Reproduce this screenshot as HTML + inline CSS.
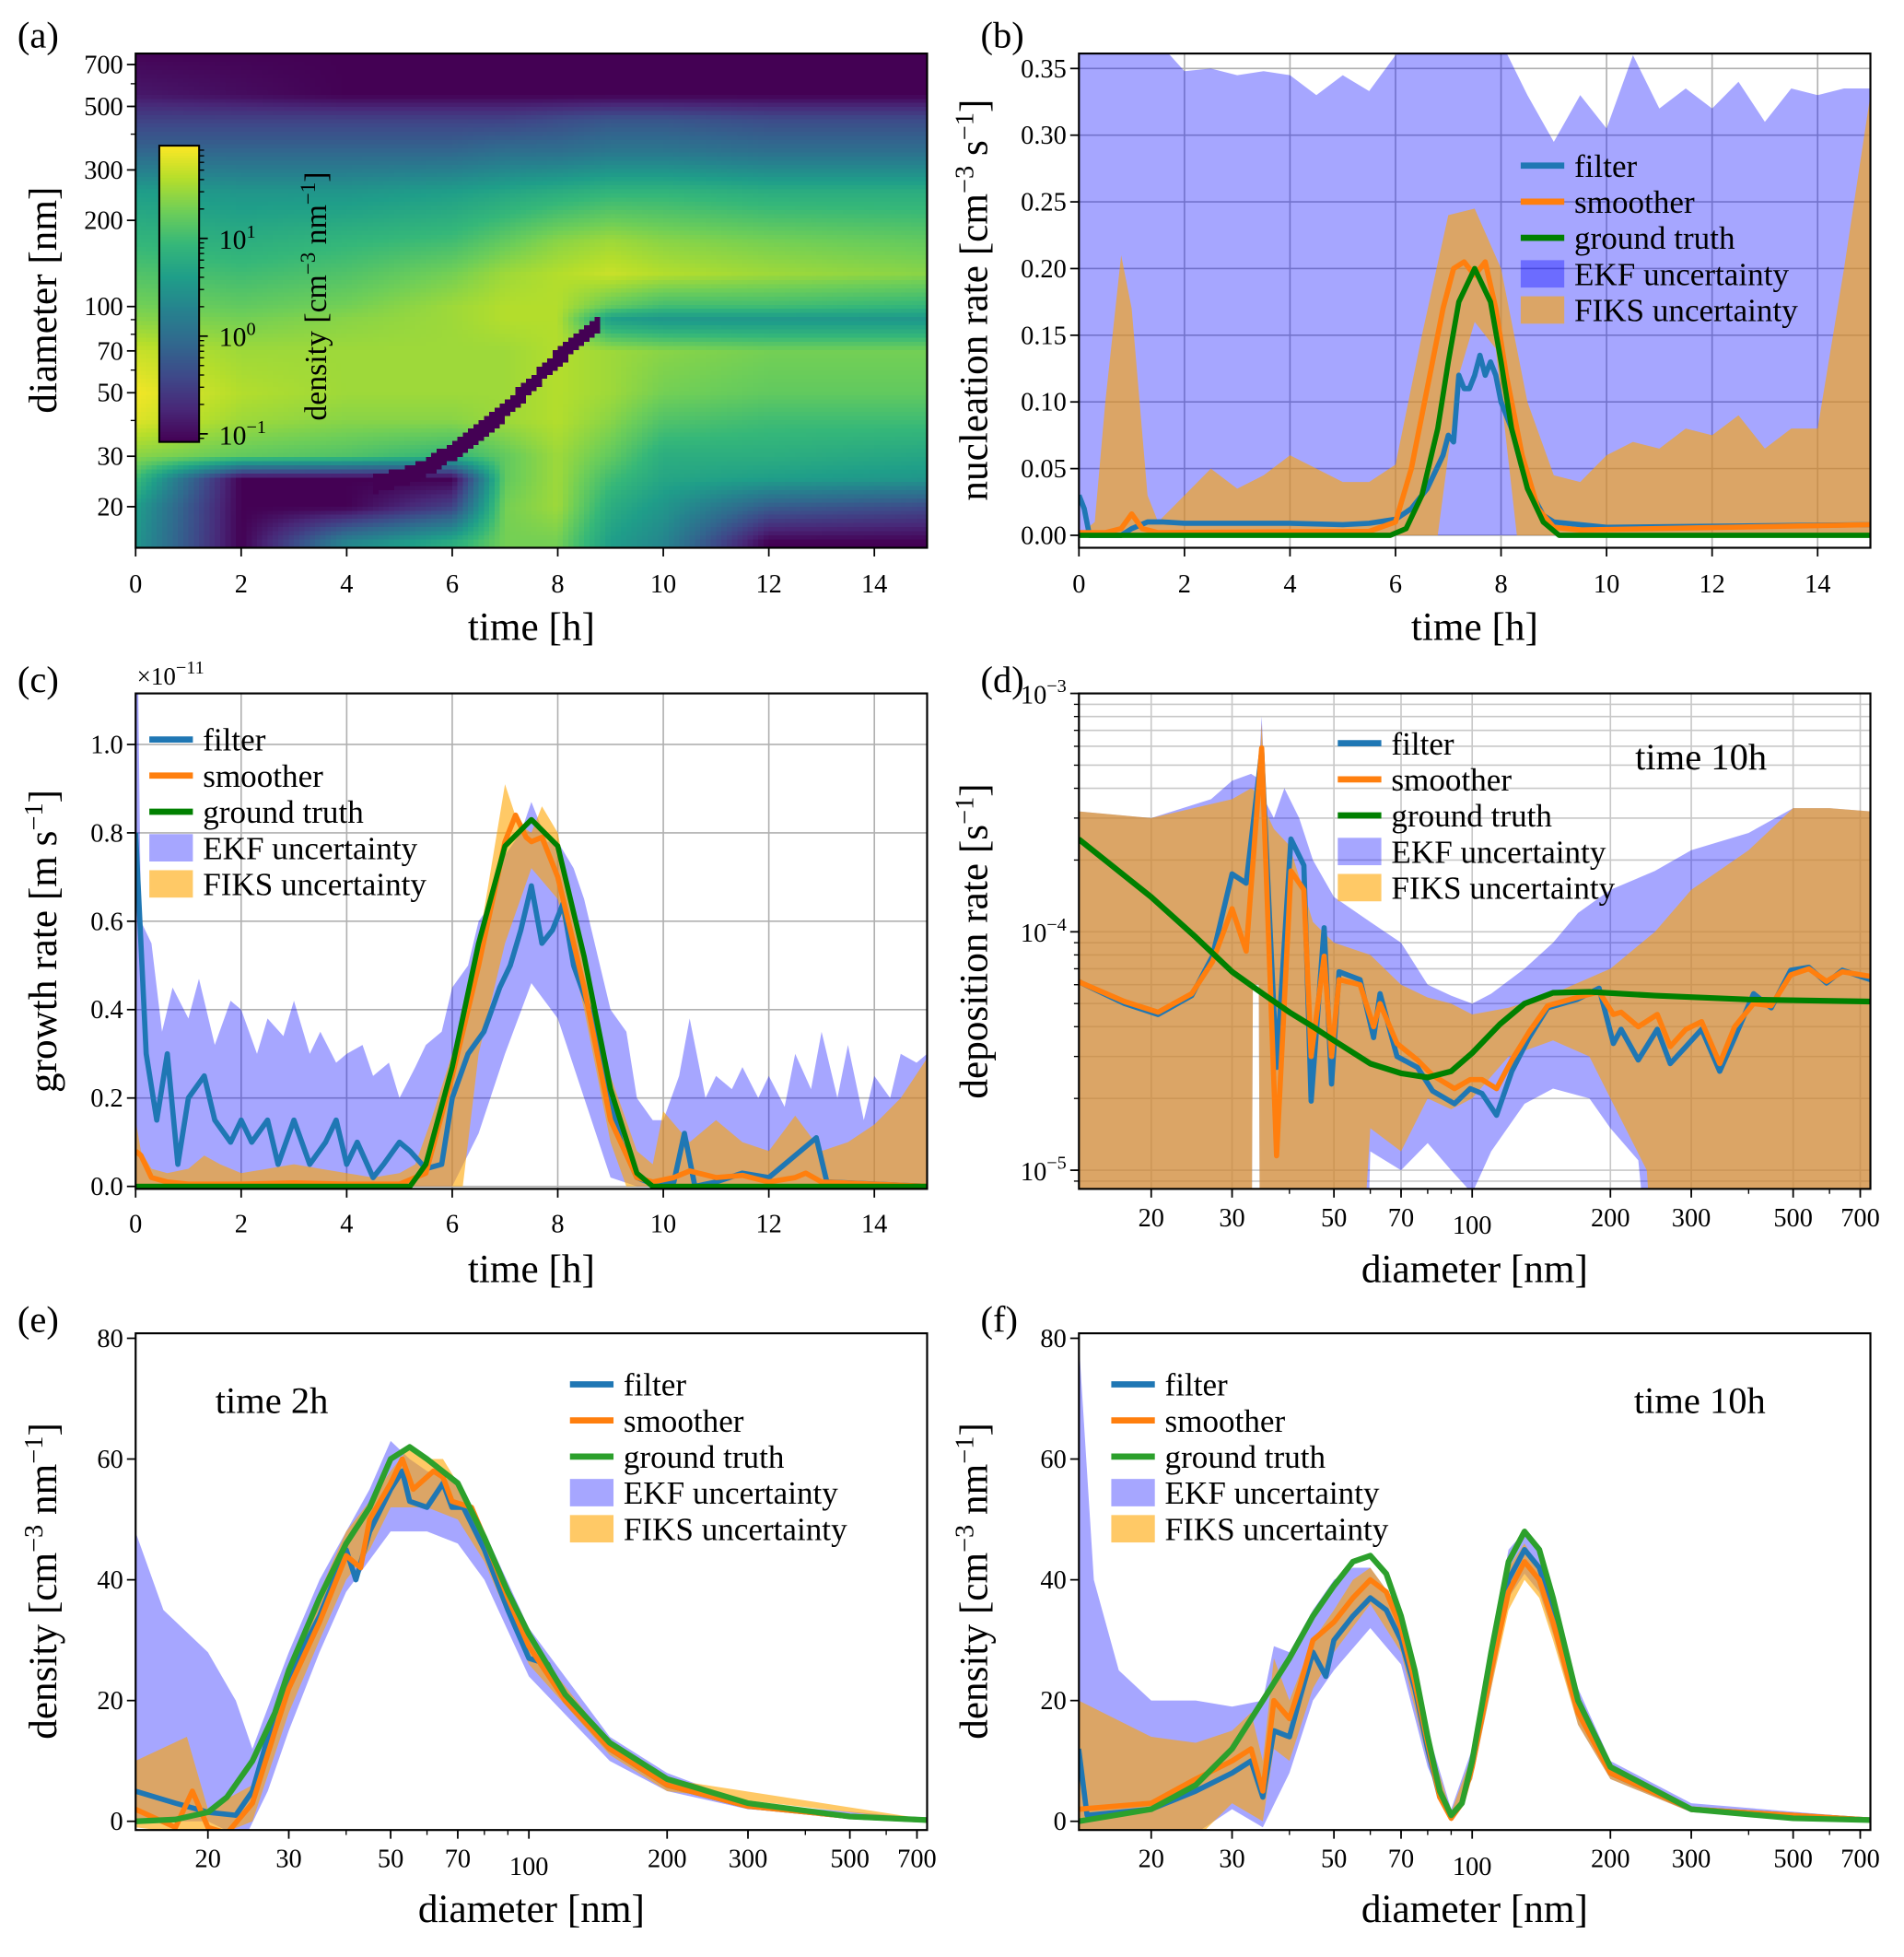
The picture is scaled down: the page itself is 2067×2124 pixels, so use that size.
<!DOCTYPE html>
<html><head><meta charset="utf-8">
<style>
html,body{margin:0;padding:0;background:#fff;}
svg{display:block;font-family:"Liberation Serif",serif;}
</style></head>
<body>
<svg id="fig" width="2067" height="2124" viewBox="0 0 1530 1572" preserveAspectRatio="none" xmlns="http://www.w3.org/2000/svg">
<defs>
<clipPath id="cA"><rect x="109" y="43" width="636" height="397"/></clipPath>
<clipPath id="cB"><rect x="867" y="43" width="636" height="397"/></clipPath>
<clipPath id="cC"><rect x="109" y="557" width="636" height="398"/></clipPath>
<clipPath id="cD"><rect x="867" y="557" width="636" height="398"/></clipPath>
<clipPath id="cE"><rect x="109" y="1071" width="636" height="399"/></clipPath>
<clipPath id="cF"><rect x="867" y="1071" width="636" height="399"/></clipPath>
</defs>
<g id="gA"></g>
<g id="gB"></g>
<g id="gC"></g>
<g id="gD"></g>
<g id="gE"></g>
<g id="gF"></g>

<g font-size="30">
<text x="14" y="38">(a)</text>
<text x="788" y="38">(b)</text>
<text x="14" y="556">(c)</text>
<text x="788" y="556">(d)</text>
<text x="14" y="1070">(e)</text>
<text x="788" y="1070">(f)</text>
</g>

<g font-size="32" text-anchor="middle">
<text x="427" y="514">time [h]</text>
<text x="1185" y="514">time [h]</text>
<text x="427" y="1030">time [h]</text>
<text x="1185" y="1030">diameter [nm]</text>
<text x="427" y="1544">diameter [nm]</text>
<text x="1185" y="1544">diameter [nm]</text>
<text transform="translate(45,241) rotate(-90)">diameter [nm]</text>
<text transform="translate(793,241) rotate(-90)">nucleation rate [cm<tspan dy="-11" font-size="21">−3</tspan><tspan dy="11"> s</tspan><tspan dy="-11" font-size="21">−1</tspan><tspan dy="11">]</tspan></text>
<text transform="translate(45,756) rotate(-90)">growth rate [m s<tspan dy="-11" font-size="21">−1</tspan><tspan dy="11">]</tspan></text>
<text transform="translate(793,756) rotate(-90)">deposition rate [s<tspan dy="-11" font-size="21">−1</tspan><tspan dy="11">]</tspan></text>
<text transform="translate(45,1270) rotate(-90)">density [cm<tspan dy="-11" font-size="21">−3</tspan><tspan dy="11"> nm</tspan><tspan dy="-11" font-size="21">−1</tspan><tspan dy="11">]</tspan></text>
<text transform="translate(793,1270) rotate(-90)">density [cm<tspan dy="-11" font-size="21">−3</tspan><tspan dy="11"> nm</tspan><tspan dy="-11" font-size="21">−1</tspan><tspan dy="11">]</tspan></text>
</g>
<text x="110" y="550" font-size="20">×10<tspan dy="-9" font-size="15">−11</tspan></text>

<g font-size="30">
<text x="1314" y="618">time 10h</text>
<text x="173" y="1135">time 2h</text>
<text x="1313" y="1135">time 10h</text>
</g>
<g id="legends"></g>
</svg>
<script>
// ================= DATA =================
// (a) heatmap table: log10 density at time nodes x diameter nodes
const hmTimes=[0,2,4,6,7,8,9,10,12,15];
const hmDiams=[14,15,20,25,30,40,50,70,90,100,130,170,250,350,450,550,800];
const hmVals=[
[0.5,-1.1,0.3,0.8,1.3,1.3,0.6,0.3,-1.1,-1.1],
[0.5,-1.1,0.3,0.8,1.3,1.3,0.6,0.3,-1.1,-1.1],
[0.6,-1.1,-1.1,-0.5,1.3,1.5,0.8,0.5,-0.2,-0.4],
[1.0,-1.1,-1.1,-1.1,1.2,1.5,1.0,0.7,0.6,0.5],
[1.4,1.2,1.1,0.9,1.2,1.5,1.2,0.8,0.8,0.7],
[1.8,1.5,1.4,1.4,1.5,1.6,1.4,1.1,1.0,1.0],
[1.9,1.6,1.5,1.5,1.5,1.6,1.5,1.3,1.2,1.2],
[1.7,1.5,1.5,1.5,1.5,1.6,1.5,1.4,1.3,1.3],
[1.4,1.3,1.4,1.5,1.6,1.6,0.6,0.5,0.5,0.5],
[1.3,1.2,1.3,1.5,1.6,1.6,1.2,1.0,1.0,0.9],
[1.1,1.0,1.1,1.3,1.5,1.6,1.7,1.6,1.5,1.4],
[0.9,0.8,0.9,1.0,1.2,1.4,1.5,1.4,1.3,1.2],
[0.6,0.5,0.5,0.6,0.7,0.8,0.9,0.9,0.8,0.8],
[-0.1,-0.1,-0.1,-0.1,0.0,0.0,0.1,0.1,0.0,0.0],
[-0.5,-0.5,-0.5,-0.5,-0.5,-0.4,-0.3,-0.3,-0.4,-0.4],
[-0.9,-1.0,-1.1,-1.1,-1.1,-1.1,-1.1,-1.1,-1.1,-1.1],
[-1.1,-1.1,-1.1,-1.1,-1.1,-1.1,-1.1,-1.1,-1.1,-1.1]];
const stripeT=[4.5,5.3,6,7,8,8.8];
const stripeD=[24,26,31,43,66,88];

// (b) nucleation
const bEkfUpT=[0,0.5,1,1.5,2,2.5,3,3.5,4,4.5,5,5.5,6,6.5,7,7.5,8,8.5,9,9.5,10,10.5,11,11.5,12,12.5,13,13.5,14,14.5,15];
const bEkfUpV=[0.37,0.37,0.37,0.37,0.348,0.35,0.345,0.348,0.345,0.33,0.345,0.333,0.36,0.37,0.37,0.37,0.37,0.33,0.295,0.33,0.305,0.36,0.32,0.335,0.32,0.34,0.31,0.335,0.33,0.335,0.335];
const bFiksUpT=[0,0.3,0.5,0.8,1.0,1.3,1.5,2,2.5,3,3.5,4,4.5,5,5.5,6,6.5,7,7.5,8,8.5,9,9.5,10,10.5,11,11.5,12,12.5,13,13.5,14,14.5,15];
const bFiksUpV=[0,0.01,0.1,0.21,0.17,0.03,0.01,0.03,0.05,0.035,0.045,0.06,0.05,0.04,0.04,0.053,0.15,0.24,0.245,0.2,0.1,0.045,0.04,0.06,0.07,0.065,0.08,0.075,0.09,0.065,0.08,0.08,0.2,0.33];
const bFiksLoT=[0,6.8,7.2,7.5,7.9,8.3,15];
const bFiksLoV=[0,0,0.12,0.16,0.14,0,0];
const bFiltT=[0,0.1,0.2,0.6,0.8,1.0,1.3,1.6,2,3,4,5,5.5,6,6.3,6.6,6.9,7.0,7.1,7.2,7.3,7.4,7.5,7.6,7.7,7.8,7.9,8.0,8.2,8.4,8.6,8.8,9.0,9.5,10,15];
const bFiltV=[0.03,0.02,0,0,0,0.005,0.01,0.01,0.009,0.009,0.009,0.008,0.009,0.012,0.02,0.035,0.06,0.075,0.07,0.12,0.11,0.11,0.12,0.135,0.12,0.13,0.12,0.1,0.08,0.05,0.03,0.015,0.01,0.008,0.006,0.008];
const bSmoT=[0,0.5,0.8,1.0,1.2,1.5,5.5,6.0,6.3,6.6,6.9,7.1,7.3,7.5,7.7,7.9,8.1,8.4,8.7,9.0,9.5,15];
const bSmoV=[0.002,0.002,0.005,0.016,0.005,0.002,0.003,0.01,0.05,0.11,0.17,0.2,0.205,0.195,0.205,0.17,0.12,0.06,0.02,0.006,0.004,0.008];
const bGtT=[0,5.9,6.2,6.5,6.8,7.0,7.2,7.5,7.8,8.0,8.2,8.5,8.8,9.1,15];
const bGtV=[0,0,0.005,0.03,0.08,0.13,0.175,0.2,0.175,0.13,0.08,0.035,0.01,0,0];

// (c) growth rate (x1e-11)
const cEkfUpT=[0,0.05,0.1,0.3,0.5,0.7,1,1.2,1.5,1.8,2,2.3,2.5,2.8,3,3.3,3.5,3.8,4,4.3,4.5,4.8,5,5.3,5.5,5.8,6,6.3,6.5,6.8,7,7.3,7.5,7.8,8,8.3,8.5,8.8,9,9.3,9.5,9.8,10,10.3,10.5,10.8,11,11.3,11.5,11.8,12,12.3,12.5,12.8,13,13.3,13.5,13.8,14,14.3,14.5,14.8,15];
const cEkfUpV=[1.12,1.12,0.6,0.55,0.35,0.45,0.38,0.47,0.32,0.42,0.4,0.3,0.38,0.34,0.42,0.3,0.35,0.28,0.3,0.32,0.25,0.28,0.2,0.27,0.32,0.35,0.45,0.5,0.6,0.65,0.75,0.8,0.87,0.78,0.78,0.72,0.65,0.5,0.4,0.35,0.2,0.15,0.15,0.25,0.38,0.2,0.25,0.22,0.27,0.2,0.25,0.18,0.3,0.22,0.35,0.2,0.32,0.15,0.25,0.2,0.3,0.28,0.3];
const cEkfLoT=[0,6,6.5,7,7.5,8,8.5,9,9.5,15];
const cEkfLoV=[0,0,0.12,0.3,0.46,0.38,0.2,0.02,0,0];
const cFiksUpT=[0,0.1,0.3,0.6,1,1.3,1.6,2,2.5,3,3.5,4,4.5,5,5.3,5.6,6,6.5,7,7.25,7.5,7.7,8,8.5,9,9.5,9.8,10,10.5,11,11.5,12,12.5,13,13.5,14,14.5,15];
const cFiksUpV=[0.15,0.08,0.04,0.03,0.04,0.07,0.05,0.03,0.04,0.05,0.04,0.03,0.02,0.03,0.05,0.15,0.3,0.55,0.91,0.82,0.8,0.86,0.8,0.5,0.25,0.08,0.05,0.17,0.1,0.15,0.1,0.08,0.16,0.08,0.1,0.14,0.2,0.29];
const cFiksLoT=[0,6.2,6.5,7,7.5,8,8.5,9,9.3,15];
const cFiksLoV=[0,0,0.3,0.55,0.72,0.65,0.4,0.1,0,0];
const cFiltT=[0,0.1,0.2,0.4,0.6,0.8,1.0,1.3,1.5,1.8,2.0,2.2,2.5,2.7,3.0,3.3,3.6,3.8,4.0,4.2,4.5,4.7,5.0,5.2,5.5,5.8,6.0,6.3,6.6,6.9,7.1,7.3,7.5,7.7,7.9,8.1,8.3,8.6,8.8,9.0,9.2,9.5,9.9,10.2,10.4,10.6,11,11.5,12,12.9,13.1,15];
const cFiltV=[0.8,0.55,0.3,0.15,0.3,0.05,0.2,0.25,0.15,0.1,0.15,0.1,0.15,0.05,0.15,0.05,0.1,0.15,0.05,0.1,0.02,0.05,0.1,0.08,0.04,0.05,0.2,0.3,0.35,0.45,0.5,0.58,0.68,0.55,0.58,0.64,0.5,0.4,0.3,0.2,0.1,0.02,0,0.01,0.12,0,0.01,0.03,0.02,0.11,0.01,0];
const cSmoT=[0,0.1,0.3,0.6,1,2,3,4,5,5.5,6,6.5,7,7.2,7.4,7.5,7.7,8,8.5,9,9.5,9.8,10.2,10.5,11,11.5,12,12.5,12.7,13,15];
const cSmoV=[0.08,0.07,0.02,0.01,0.005,0.005,0.008,0.005,0.005,0.03,0.25,0.5,0.78,0.84,0.79,0.78,0.79,0.7,0.45,0.15,0.02,0.01,0.02,0.035,0.02,0.025,0.01,0.02,0.03,0.01,0.0];
const cGtT=[0,5.2,5.5,6,6.5,7,7.5,8,8.5,9,9.5,9.8,15];
const cGtV=[0,0,0.05,0.27,0.55,0.77,0.83,0.77,0.52,0.22,0.03,0,0];

// (d) deposition rate
const dEkfUpD=[13.9,20,27,30,33,34.2,34.8,35.5,37,39,42,45,50,60,70,80,90,100,110,130,150,170,200,250,300,400,500,600,737];
const dEkfUpV=[3.2e-4,3e-4,3.6e-4,4.3e-4,4.6e-4,4.4e-4,8e-4,3.5e-4,3e-4,4e-4,3e-4,2e-4,1.4e-4,1.1e-4,9e-5,6e-5,5.4e-5,5e-5,5.5e-5,7e-5,9e-5,1.2e-4,1.5e-4,1.8e-4,2.2e-4,2.6e-4,3.3e-4,3.3e-4,3.2e-4];
const dEkfLoD=[13.9,33.0,33.3,34.3,34.6,58,60,70,80,90,100,110,130,150,180,200,230,260,737];
const dEkfLoV=[1e-6,1e-6,6e-5,6e-5,1e-6,1e-6,1.2e-5,1e-5,1.3e-5,1e-5,8e-6,1.2e-5,1.9e-5,2.2e-5,2e-5,1.5e-5,1.1e-5,1e-6,1e-6];
const dFiksUpD=[13.9,20,30,33,34.2,34.8,35.5,37,40,45,50,60,70,80,90,100,120,150,200,250,300,400,500,600,737];
const dFiksUpV=[3.2e-4,3e-4,3.6e-4,4e-4,3.8e-4,7.5e-4,3.2e-4,2.7e-4,2.3e-4,1.1e-4,9e-5,8e-5,6e-5,5.3e-5,5e-5,4.5e-5,4.8e-5,5.5e-5,7e-5,1e-4,1.5e-4,2.2e-4,3.3e-4,3.3e-4,3.2e-4];
const dFiksLoD=[13.9,33.0,33.3,34.3,34.6,50,55,60,70,80,90,100,120,150,180,200,240,260,737];
const dFiksLoV=[1e-6,1e-6,6e-5,6e-5,1e-6,1e-6,1e-6,1.5e-5,1.2e-5,2e-5,1.8e-5,2e-5,3e-5,3.5e-5,3e-5,2e-5,1e-5,1e-6,1e-6];
const dLineD=[13.9,14.1,17.5,20.7,24.5,27.2,30,32.2,34.8,37.5,40.3,43,44.6,47.6,49.4,51.3,57,61,63,68.6,76,82,91.5,99,105,113,122,133,146,169,189,203,211,230,253,270,292,316,346,373,410,448,494,541,591,640,737];
const dFiltV=[6.2e-5,6.1e-5,5.0e-5,4.5e-5,5.4e-5,7.9e-5,1.75e-4,1.6e-4,5.7e-4,2.7e-5,2.45e-4,1.9e-4,1.95e-5,1.04e-4,2.3e-5,6.8e-5,6.3e-5,3.6e-5,5.5e-5,3.0e-5,2.7e-5,2.15e-5,1.9e-5,2.2e-5,2.1e-5,1.7e-5,2.6e-5,3.6e-5,4.8e-5,5.2e-5,5.8e-5,3.4e-5,3.9e-5,2.9e-5,3.9e-5,2.8e-5,3.3e-5,3.9e-5,2.6e-5,3.6e-5,5.5e-5,4.8e-5,6.9e-5,7.1e-5,6.1e-5,6.9e-5,6.3e-5];
const dSmoV=[6.2e-5,6.1e-5,5.1e-5,4.6e-5,5.5e-5,7.5e-5,1.25e-4,8.3e-5,5.9e-4,1.15e-5,1.8e-4,1.5e-4,3.0e-5,7.9e-5,3.0e-5,6.3e-5,6.0e-5,4.0e-5,5.0e-5,3.4e-5,2.9e-5,2.5e-5,2.2e-5,2.4e-5,2.4e-5,2.2e-5,2.9e-5,3.8e-5,4.9e-5,5.3e-5,5.6e-5,4.5e-5,4.6e-5,4.0e-5,4.5e-5,3.3e-5,3.9e-5,4.2e-5,2.8e-5,4.0e-5,5.0e-5,4.9e-5,6.6e-5,7.0e-5,6.2e-5,6.8e-5,6.5e-5];
const dGtD=[13.9,20,25,30,35,40,45,50,60,70,80,90,100,115,130,150,180,250,400,737];
const dGtV=[2.45e-4,1.4e-4,9.5e-5,6.8e-5,5.5e-5,4.6e-5,4e-5,3.5e-5,2.8e-5,2.55e-5,2.45e-5,2.6e-5,3.1e-5,4.1e-5,5e-5,5.55e-5,5.6e-5,5.4e-5,5.2e-5,5.1e-5];

// (e) density at 2h
const eGtD=[13.9,17,20,22,25,28,30,35,40,45,50,55,60,70,80,90,100,120,150,200,300,500,740];
const eGtV=[0,0.3,1.5,4,10,18,25,37,46,52,60,62,60,56,47,38,31,21,13,7,3,0.8,0.2];
const eFiltD=[13.9,17,20,23,25,28,30,35,40,42,45,50,53,55,60,65,68,72,80,90,100,110,120,150,200,300,500,740];
const eFiltV=[5,3,1.5,1,5,18,24,34,45,40,48,55,58,53,52,56,52,52,45,35,27,26,20,12,6,2.5,0.8,0.2];
const eSmoD=[13.9,17,18.5,20,22,25,28,30,35,40,43,45,50,53,56,62,65,68,75,80,90,100,120,150,200,300,500,740];
const eSmoV=[2,-1,5,-1,-2,3,15,22,33,44,42,50,56,60,55,58,57,53,52,47,37,29,20,12,6,2.5,0.8,0.2];
const eEkfUpD=[13.9,16,20,23,25,28,30,35,40,45,50,55,60,70,80,100,150,200,300,740];
const eEkfUpV=[48,35,28,20,12,22,28,40,48,55,63,60,58,56,48,32,14,8,3,0.5];
const eEkfLoD=[13.9,20,24,27,30,35,40,50,60,70,80,100,150,200,300,740];
const eEkfLoV=[0,0,-3,5,15,28,38,48,48,46,40,24,10,5,2,0];
const eFiksUpD=[13.9,18,20,25,30,35,40,45,50,55,60,65,70,80,100,150,200,740];
const eFiksUpV=[10,14,2,6,25,38,48,53,58,62,60,60,56,48,30,13,7,0.3];
const eFiksLoD=[13.9,18,20,25,30,35,40,45,50,60,70,80,100,150,200,740];
const eFiksLoV=[-1,-2,-3,0,18,30,40,45,52,52,50,43,26,11,5,0];

// (f) density at 10h
const fGtD=[13.9,20,25,30,35,40,45,50,55,60,65,70,75,80,85,90,95,100,110,120,130,140,150,170,200,300,500,740];
const fGtV=[0,2,6,12,20,27,34,39,43,44,41,34,25,14,5,1,3,10,28,43,48,45,37,20,9,2,0.5,0.2];
const fFiltD=[13.9,14.5,20,25,30,33,35,37,40,42,45,48,50,55,60,65,70,75,80,85,90,95,100,110,120,130,140,150,170,200,300,740];
const fFiltV=[12,1,2,5,8,10,4,15,14,20,28,24,30,34,37,35,30,22,12,4,1,3,10,27,40,45,42,35,19,8,2,0.2];
const fSmoD=[13.9,20,25,30,33,35,37,40,42,45,50,55,60,65,70,75,80,85,90,95,100,110,120,130,140,150,170,200,300,740];
const fSmoV=[2,3,7,10,12,5,20,17,22,30,33,37,40,38,32,23,13,4,0.5,3,9,25,38,43,40,33,18,8,2,0.2];
const fEkfUpD=[13.9,15,17,20,25,30,35,37,40,45,50,55,60,70,80,90,100,110,120,130,140,150,170,200,300,740];
const fEkfUpV=[80,40,25,20,20,19,20,29,28,35,40,42,42,35,15,2,12,30,45,48,45,38,22,10,3,0.5];
const fEkfLoD=[13.9,20,25,30,35,40,45,50,60,70,80,90,100,110,120,130,140,150,170,200,300,740];
const fEkfLoV=[-2,-3,-2,2,-1,8,20,25,32,26,9,0,7,22,37,41,38,31,16,7,1.5,0];
const fFiksUpD=[13.9,20,25,30,33,35,37,40,45,50,55,60,70,80,90,100,110,120,130,140,150,170,200,300,740];
const fFiksUpV=[20,14,13,15,18,10,27,20,30,35,40,42,35,14,1.5,11,28,42,46,42,36,20,9,2.5,0.3];
const fFiksLoD=[13.9,20,25,30,35,37,40,45,50,60,70,80,90,100,110,120,130,140,150,170,200,300,740];
const fFiksLoV=[-3,-5,-3,3,0,12,10,22,28,36,28,10,0,7,22,35,40,37,30,16,7,1.5,0];

// ================= DRAWING =================
const NS='http://www.w3.org/2000/svg';
function mk(tag,attrs,parent){const e=document.createElementNS(NS,tag);for(const k in attrs)e.setAttribute(k,attrs[k]);parent.appendChild(e);return e;}
function interp(xs,ys,x){if(x<=xs[0])return ys[0];const n=Math.min(xs.length,ys.length);if(x>=xs[n-1])return ys[n-1];for(let i=1;i<n;i++){if(x<=xs[i]){const f=(x-xs[i-1])/(xs[i]-xs[i-1]);return ys[i-1]+f*(ys[i]-ys[i-1]);}}return ys[n-1];}
const L10=Math.log10;
const EKF='rgba(0,0,255,0.35)', FIKS='rgba(255,165,0,0.6)';
const BLUE='#1f77b4', ORANGE='#ff7f0e', DGREEN='#008000', GREEN='#2ca02c';

function pathOf(xs,ys,fx,fy){let s='';const n=Math.min(xs.length,ys.length);for(let i=0;i<n;i++)s+=(i?'L':'M')+fx(xs[i]).toFixed(2)+','+fy(ys[i]).toFixed(2);return s;}
function bandOf(xu,yu,xl,yl,fx,fy){let s=pathOf(xu,yu,fx,fy);const n=Math.min(xl.length,yl.length);for(let i=n-1;i>=0;i--)s+='L'+fx(xl[i]).toFixed(2)+','+fy(yl[i]).toFixed(2);return s+'Z';}

const AX={
 A:{x0:109,x1:745,y0:43,y1:440,fx:t=>109+t*42.4,fy:d=>407-230*L10(d/20)},
 B:{x0:867,x1:1503,y0:43,y1:440,fx:t=>867+t*42.4,fy:v=>430-v*1071.4},
 C:{x0:109,x1:745,y0:557,y1:955,fx:t=>109+t*42.4,fy:v=>953-v*355},
 D:{x0:867,x1:1503,y0:557,y1:955,fx:d=>1183+369*L10(d/100),fy:v=>557+(-3-L10(v))*191.5},
 E:{x0:109,x1:745,y0:1071,y1:1470,fx:d=>425+369*L10(d/100),fy:v=>1463-v*4.85},
 F:{x0:867,x1:1503,y0:1071,y1:1470,fx:d=>1183+369*L10(d/100),fy:v=>1463-v*4.85}
};

const VIR=[[68,1,84],[72,40,120],[62,73,137],[49,104,142],[38,130,142],[31,158,137],[53,183,121],[110,206,88],[181,222,43],[253,231,37]];
function viridis(f){f=Math.max(0,Math.min(1,f));const p=f*(VIR.length-1);const i=Math.min(VIR.length-2,Math.floor(p));const r=p-i;const a=VIR[i],b=VIR[i+1];return 'rgb('+Math.round(a[0]+r*(b[0]-a[0]))+','+Math.round(a[1]+r*(b[1]-a[1]))+','+Math.round(a[2]+r*(b[2]-a[2]))+')';}
const VMIN=-1.1,VMAX=1.95;

function grid(g,ax,xs,ys,fx,fy,col){
 for(const x of xs){const e=mk('line',{x1:fx(x),x2:fx(x),y1:ax.y0,y2:ax.y1,stroke:col||'#b0b0b0','stroke-width':1.2},g);}
 for(const y of ys){const e=mk('line',{x1:ax.x0,x2:ax.x1,y1:fy(y),y2:fy(y),stroke:col||'#b0b0b0','stroke-width':1.2},g);}
}
function frame(g,ax){const e=mk('rect',{x:ax.x0,y:ax.y0,width:ax.x1-ax.x0,height:ax.y1-ax.y0,fill:'none',stroke:'#000','stroke-width':1.6},g);}
function xTicks(g,ax,vals,labels,fx,by,lowerIdx){
 vals.forEach((v,i)=>{const x=fx(v);const t=mk('line',{x1:x,x2:x,y1:ax.y1,y2:ax.y1+7,stroke:'#000','stroke-width':1.3},g);
  const tx=mk('text',{x:x,y:by+(i===lowerIdx?6:0),'text-anchor':'middle','font-size':21},g);tx.textContent=labels[i];});
}
function yTicks(g,ax,vals,labels,fy){
 vals.forEach((v,i)=>{const y=fy(v);const t=mk('line',{x1:ax.x0-7,x2:ax.x0,y1:y,y2:y,stroke:'#000','stroke-width':1.3},g);
  const tx=mk('text',{x:ax.x0-10,y:y+7,'text-anchor':'end','font-size':21},g);tx.textContent=labels[i];});
}
function minorX(g,ax,fx,lo,hi){for(let dec=1;dec<=1000;dec*=10)for(let k=1;k<10;k++){const v=k*dec;if(v<lo||v>hi)continue;const x=fx(v);const t=mk('line',{x1:x,x2:x,y1:ax.y1,y2:ax.y1+4,stroke:'#000','stroke-width':1},g);}}
function minorY(g,ax,fy,lo,hi,x0,len){for(let dec=1e-7;dec<=1000;dec*=10)for(let k=1;k<10;k++){const v=k*dec;if(v<lo||v>hi)continue;const y=fy(v);const t=mk('line',{x1:x0-len,x2:x0,y1:y,y2:y,stroke:'#000','stroke-width':1},g);}}
function band(g,clip,xu,yu,xl,yl,fx,fy,fill,name){const p=mk('path',{d:bandOf(xu,yu,xl,yl,fx,fy),fill:fill,'clip-path':clip},g);}
function line(g,clip,xs,ys,fx,fy,col,name,w){const p=mk('path',{d:pathOf(xs,ys,fx,fy),fill:'none',stroke:col,'stroke-width':w||4.2,'stroke-linejoin':'round','clip-path':clip},g);}

// ---------- Panel A: heatmap ----------
(function(){
 const g=document.getElementById('gA'),ax=AX.A;
 const hg=mk('g',{'clip-path':'url(#cA)','shape-rendering':'crispEdges'},g);
 
 const NC=150,NR=120,cw=(ax.x1-ax.x0)/NC,ch=(ax.y1-ax.y0)/NR;
 const lD=hmDiams.map(L10), lS=stripeD.map(L10);
 for(let c=0;c<NC;c++){
  const t=(c+0.5)/NC*15;
  const rowVals=hmDiams.map((_,r)=>interp(hmTimes,hmVals[r],t));
  const ls=(t>=stripeT[0]&&t<=stripeT[stripeT.length-1])?interp(stripeT,lS,t):null;
  for(let r=0;r<NR;r++){
   const y=ax.y0+r*ch+ch/2;
   const Ld=L10(20)+(407-y)/230;
   let v=interp(lD,rowVals,Ld);
   if(ls!==null&&Math.abs(Ld-ls)<0.032)v=-1.1;
   const rect=mk('rect',{x:(ax.x0+c*cw).toFixed(2),y:(ax.y0+r*ch).toFixed(2),width:(cw+0.6).toFixed(2),height:(ch+0.6).toFixed(2),fill:viridis((v-VMIN)/(VMAX-VMIN))},hg);
   
   
  }
 }
 frame(g,ax);
 xTicks(g,ax,[0,2,4,6,8,10,12,14],['0','2','4','6','8','10','12','14'],ax.fx,476);
 yTicks(g,ax,[20,30,50,70,100,200,300,500,700],['20','30','50','70','100','200','300','500','700'],ax.fy);
 minorY(g,ax,ax.fy,15,760,ax.x0,4);
 const cb=mk('g',{},g);
 const cy0=117,cy1=355,n=120;
 for(let i=0;i<n;i++){const r=mk('rect',{x:128,y:(cy0+i*(cy1-cy0)/n).toFixed(2),width:32,height:((cy1-cy0)/n+0.6).toFixed(2),fill:viridis(1-(i+0.5)/n),'shape-rendering':'crispEdges'},cb);}
 mk('rect',{x:128,y:cy0,width:32,height:cy1-cy0,fill:'none',stroke:'#000','stroke-width':1.5},cb);
 const cfy=v=>270-78.5*v;
 for(let e=-2;e<=2;e++)for(let k=1;k<10;k++){const lv=e+L10(k);const y=cfy(lv);if(y<cy0||y>cy1)continue;mk('line',{x1:160,x2:160+(k===1?7:4),y1:y,y2:y,stroke:'#000','stroke-width':k===1?1.3:1},cb);}
 [[1,192],[0,270],[-1,349]].forEach(([e,y])=>{const t=mk('text',{x:176,y:y+8,'font-size':22},cb);t.innerHTML='10<tspan dy="-9" font-size="15">'+(e<0?'−1':e)+'</tspan>';});
 const cl=mk('text',{transform:'translate(262,238) rotate(-90)','text-anchor':'middle','font-size':25},cb);
 cl.innerHTML='density [cm<tspan dy="-9" font-size="17">−3</tspan><tspan dy="9"> nm</tspan><tspan dy="-9" font-size="17">−1</tspan><tspan dy="9">]</tspan>';
 
})();

// ---------- Panel B ----------
(function(){
 const g=document.getElementById('gB'),ax=AX.B,cl='url(#cB)';
 grid(g,ax,[0,2,4,6,8,10,12,14],[0,0.05,0.1,0.15,0.2,0.25,0.3,0.35],ax.fx,ax.fy);
 band(g,cl,bEkfUpT,bEkfUpV,[0,15],[0,0],ax.fx,ax.fy,EKF,'ekf-band');
 band(g,cl,bFiksUpT,bFiksUpV,bFiksLoT,bFiksLoV,ax.fx,ax.fy,FIKS,'fiks-band');
 line(g,cl,bFiltT,bFiltV,ax.fx,ax.fy,BLUE,'filter-line');
 line(g,cl,bSmoT,bSmoV,ax.fx,ax.fy,ORANGE,'smoother-line');
 line(g,cl,bGtT,bGtV,ax.fx,ax.fy,DGREEN,'ground-truth-line');
 frame(g,ax);
 xTicks(g,ax,[0,2,4,6,8,10,12,14],['0','2','4','6','8','10','12','14'],ax.fx,476);
 yTicks(g,ax,[0,0.05,0.1,0.15,0.2,0.25,0.3,0.35],['0.00','0.05','0.10','0.15','0.20','0.25','0.30','0.35'],ax.fy);
})();

// ---------- Panel C ----------
(function(){
 const g=document.getElementById('gC'),ax=AX.C,cl='url(#cC)';
 grid(g,ax,[0,2,4,6,8,10,12,14],[0,0.2,0.4,0.6,0.8,1.0],ax.fx,ax.fy);
 band(g,cl,cEkfUpT,cEkfUpV,cEkfLoT,cEkfLoV,ax.fx,ax.fy,EKF,'ekf-band');
 band(g,cl,cFiksUpT,cFiksUpV,cFiksLoT,cFiksLoV,ax.fx,ax.fy,FIKS,'fiks-band');
 line(g,cl,cFiltT,cFiltV,ax.fx,ax.fy,BLUE,'filter-line');
 line(g,cl,cSmoT,cSmoV,ax.fx,ax.fy,ORANGE,'smoother-line');
 line(g,cl,cGtT,cGtV,ax.fx,ax.fy,DGREEN,'ground-truth-line');
 frame(g,ax);
 xTicks(g,ax,[0,2,4,6,8,10,12,14],['0','2','4','6','8','10','12','14'],ax.fx,990);
 yTicks(g,ax,[0,0.2,0.4,0.6,0.8,1.0],['0.0','0.2','0.4','0.6','0.8','1.0'],ax.fy);
})();

const DT=[20,30,50,70,100,200,300,500,700], DTL=['20','30','50','70','100','200','300','500','700'];
// ---------- Panel D ----------
(function(){
 const g=document.getElementById('gD'),ax=AX.D,cl='url(#cD)';
 const gy=[];for(let dec=1e-6;dec<=1e-3;dec*=10)for(let k=1;k<10;k++){const v=k*dec;if(v>=8.4e-6&&v<=1.001e-3)gy.push(v);}
 grid(g,ax,DT,gy,ax.fx,ax.fy,'#c8c8c8');
 band(g,cl,dEkfUpD,dEkfUpV,dEkfLoD,dEkfLoV,ax.fx,ax.fy,EKF,'ekf-band');
 band(g,cl,dFiksUpD,dFiksUpV,dFiksLoD,dFiksLoV,ax.fx,ax.fy,FIKS,'fiks-band');
 line(g,cl,dLineD,dFiltV,ax.fx,ax.fy,BLUE,'filter-line');
 line(g,cl,dLineD,dSmoV,ax.fx,ax.fy,ORANGE,'smoother-line');
 line(g,cl,dGtD,dGtV,ax.fx,ax.fy,DGREEN,'ground-truth-line',4.6);
 frame(g,ax);
 xTicks(g,ax,DT,DTL,ax.fx,985,4);
 minorX(g,ax,ax.fx,14,737);
 minorY(g,ax,ax.fy,8.4e-6,1e-3,ax.x0,4);
 [[-3,557],[-4,748.5],[-5,940]].forEach(([e,y])=>{mk('line',{x1:ax.x0-7,x2:ax.x0,y1:y,y2:y,stroke:'#000','stroke-width':1.3},g);const t=mk('text',{x:ax.x0-10,y:y+8,'text-anchor':'end','font-size':21},g);t.innerHTML='10<tspan dy="-9" font-size="15">'+(e===-3?'−3':e===-4?'−4':'−5')+'</tspan>';});
})();

// ---------- Panel E/F ----------
function densPanel(id,ax,cl,eu,ev,elD,elV,fu,fv,flD,flV,fd,fvv,sd,sv,gd,gv){
 const g=document.getElementById(id);
 band(g,cl,eu,ev,elD,elV,ax.fx,ax.fy,EKF,'ekf-band');
 band(g,cl,fu,fv,flD,flV,ax.fx,ax.fy,FIKS,'fiks-band');
 line(g,cl,fd,fvv,ax.fx,ax.fy,BLUE,'filter-line');
 line(g,cl,sd,sv,ax.fx,ax.fy,ORANGE,'smoother-line');
 line(g,cl,gd,gv,ax.fx,ax.fy,GREEN,'ground-truth-line',4.6);
 frame(g,ax);
 xTicks(g,ax,DT,DTL,ax.fx,1500,4);
 minorX(g,ax,ax.fx,14,737);
 yTicks(g,ax,[0,20,40,60,80],['0','20','40','60','80'],ax.fy);
}
densPanel('gE',AX.E,'url(#cE)',eEkfUpD,eEkfUpV,eEkfLoD,eEkfLoV,eFiksUpD,eFiksUpV,eFiksLoD,eFiksLoV,eFiltD,eFiltV,eSmoD,eSmoV,eGtD,eGtV);
densPanel('gF',AX.F,'url(#cF)',fEkfUpD,fEkfUpV,fEkfLoD,fEkfLoV,fFiksUpD,fFiksUpV,fFiksLoD,fFiksLoV,fFiltD,fFiltV,fSmoD,fSmoV,fGtD,fGtV);

// ---------- Legends ----------
const legPos=[['b',1222,133,DGREEN],['c',120,594,DGREEN],['d',1075,597,DGREEN],['e',458,1112,GREEN],['f',893,1112,GREEN]];
const legNames=['filter','smoother','ground truth','EKF uncertainty','FIKS uncertainty'];
legPos.forEach(([p,x,y,gc])=>{
 const lg=mk('g',{},document.getElementById('legends'));
 
 
 const cols=[BLUE,ORANGE,gc];
 legNames.forEach((nm,i)=>{
  const cy=y+i*29;
  let h;
  if(i<3){h=mk('line',{x1:x,x2:x+35,y1:cy,y2:cy,stroke:cols[i],'stroke-width':5},lg);}
  else{h=mk('rect',{x:x,y:cy-11,width:35,height:22,fill:i===3?EKF:FIKS},lg);}
  
  
  const t=mk('text',{x:x+43,y:cy+9,'font-size':26},lg);t.textContent=nm;
  
  
 });
});
</script>
</body></html>
